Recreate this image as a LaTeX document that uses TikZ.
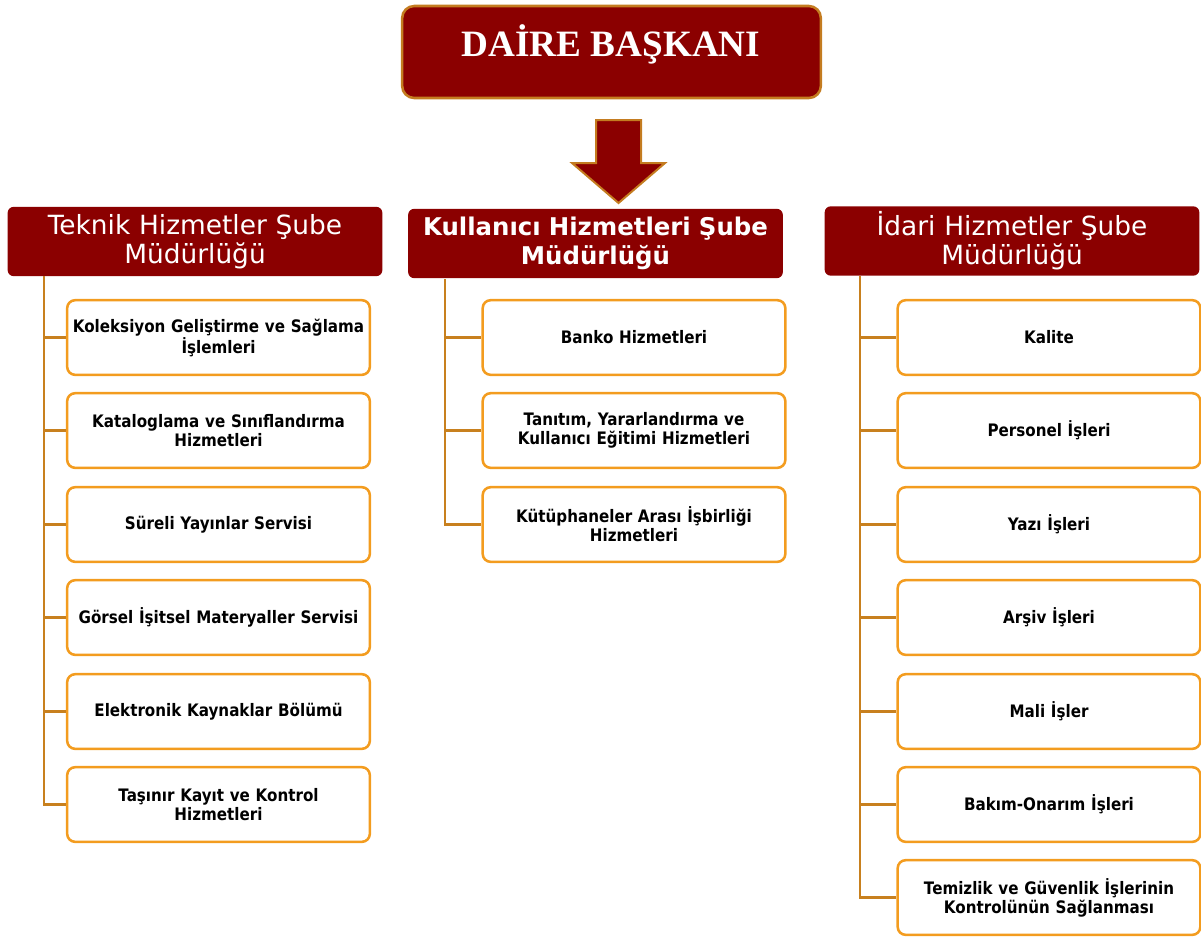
\documentclass[tikz,border=0pt]{standalone}
\usepackage{fontspec}
\setmainfont{DejaVu Sans}
\newfontfamily\childfont[FakeStretch=0.88]{DejaVu Sans}
\newfontfamily\titlefont{Liberation Serif}
\definecolor{dred}{RGB}{139,0,0}
\definecolor{boxor}{RGB}{243,156,31}
\definecolor{connor}{RGB}{200,128,30}
\definecolor{topor}{RGB}{196,124,32}
\tikzset{
  childbox/.style={draw=boxor, line width=1.9pt, rounded corners=6pt, fill=white,
    minimum width=227pt, minimum height=56pt, align=center, text width=224pt,
    font=\childfont\bfseries\fontsize{12.9}{14.3}\selectfont, inner sep=0pt},
  headbox/.style={fill=dred, rounded corners=4.5pt, minimum width=281pt, minimum height=52pt,
    align=center, text width=275pt, text=white, inner sep=0pt},
  conn/.style={draw=connor, line width=2.1pt},
}
\begin{document}
\begin{tikzpicture}[x=0.75pt,y=-0.75pt]
\useasboundingbox (0,0) rectangle (1201,940);
% top
\node[fill=dred, draw=topor, line width=1.9pt, rounded corners=9pt, minimum width=314pt, minimum height=69pt, inner sep=0pt] (top) at (611.5,52) {};
\node[text=white, font=\titlefont\bfseries\fontsize{27.9}{30}\selectfont, inner sep=0pt, anchor=base] (toptxt) at (611,56) {DAİRE BAŞKANI};
% block arrow
\draw[fill=dred, draw=topor, line width=1.5pt, line join=miter]
  (596,120) -- (641,120) -- (641,163) -- (665,163) -- (618.5,203) -- (572,163) -- (596,163) -- cycle;
% headers
\node[headbox, font=\fontsize{19.8}{21.8}\selectfont] (h1) at (195,241.5) {Teknik Hizmetler Şube\\Müdürlüğü};
\node[headbox, font=\bfseries\fontsize{18.3}{21.8}\selectfont] (h2) at (595.5,243.5) {Kullanıcı Hizmetleri Şube\\Müdürlüğü};
\node[headbox, font=\fontsize{19.8}{21.8}\selectfont] (h3) at (1012,241) {İdari Hizmetler Şube\\Müdürlüğü};
% trunk coordinates
\coordinate (t1) at (44,276);
\coordinate (t2) at (445,279);
\coordinate (t3) at (860,276);
% left children
\node[childbox] (a1) at (218.5,337.5) {Koleksiyon Geliştirme ve Sağlama\\İşlemleri};
\node[childbox] (a2) at (218.5,430.5) {Kataloglama ve Sınıflandırma\\Hizmetleri};
\node[childbox] (a3) at (218.5,524.5) {Süreli Yayınlar Servisi};
\node[childbox] (a4) at (218.5,617.5) {Görsel İşitsel Materyaller Servisi};
\node[childbox] (a5) at (218.5,711.5) {Elektronik Kaynaklar Bölümü};
\node[childbox] (a6) at (218.5,804.5) {Taşınır Kayıt ve Kontrol\\Hizmetleri};
% middle children
\node[childbox] (b1) at (634,337.5) {Banko Hizmetleri};
\node[childbox] (b2) at (634,430.5) {Tanıtım, Yararlandırma ve\\Kullanıcı Eğitimi Hizmetleri};
\node[childbox] (b3) at (634,524.5) {Kütüphaneler Arası İşbirliği\\Hizmetleri};
% right children
\node[childbox] (c1) at (1049,337.5) {Kalite};
\node[childbox] (c2) at (1049,430.5) {Personel İşleri};
\node[childbox] (c3) at (1049,524.5) {Yazı İşleri};
\node[childbox] (c4) at (1049,617.5) {Arşiv İşleri};
\node[childbox] (c5) at (1049,711.5) {Mali İşler};
\node[childbox] (c6) at (1049,804.5) {Bakım-Onarım İşleri};
\node[childbox] (c7) at (1049,897.5) {Temizlik ve Güvenlik İşlerinin\\Kontrolünün Sağlanması};
% connectors
\foreach \n in {a1,a2,a3,a4,a5,a6} \draw[conn] (t1) |- (\n.west);
\foreach \n in {b1,b2,b3} \draw[conn] (t2) |- (\n.west);
\foreach \n in {c1,c2,c3,c4,c5,c6,c7} \draw[conn] (t3) |- (\n.west);
\end{tikzpicture}
\end{document}
